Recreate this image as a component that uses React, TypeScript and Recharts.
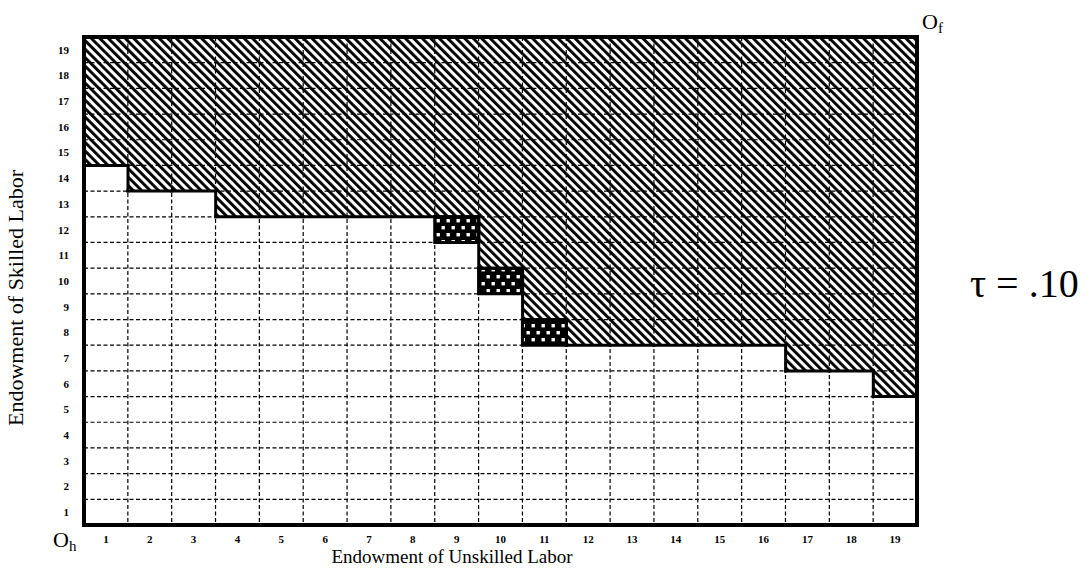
import React from 'react';
import { ComposedChart, Bar, XAxis, YAxis, CartesianGrid, ReferenceArea } from 'recharts';

// Column (unskilled labor) labels and row (skilled labor) labels
const columnLabels = ['1', '2', '3', '4', '5', '6', '7', '8', '9', '10', '11', '12', '13', '14', '15', '16', '17', '18', '19'];
const rowLabels = ['1', '2', '3', '4', '5', '6', '7', '8', '9', '10', '11', '12', '13', '14', '15', '16', '17', '18', '19'];
// Number of plain (white) cells in each column, counted from the bottom
const whiteRows = [14, 13, 13, 12, 12, 12, 12, 12, 11, 9, 7, 7, 7, 7, 7, 7, 6, 6, 5];
// Checkered cell sitting on top of the white cells (1 = present)
const checkerRows = [0, 0, 0, 0, 0, 0, 0, 0, 1, 1, 1, 0, 0, 0, 0, 0, 0, 0, 0];
const totalRows = rowLabels.length;

const data = columnLabels.map((label, i) => {
  const hatch = totalRows - whiteRows[i] - checkerRows[i];
  const nextHatch =
    i < columnLabels.length - 1 ? totalRows - whiteRows[i + 1] - checkerRows[i + 1] : hatch;
  return { col: label, pos: i + 1, white: whiteRows[i], checker: checkerRows[i], hatch, nextHatch };
});

const rowTicks = rowLabels.map((_, i) => i + 0.5);
const rowBounds = rowLabels.slice(1).map((_, i) => i + 1);
const colBounds = columnLabels.slice(1).map((_, i) => i + 1.5);

const SERIF = '"Liberation Serif", "Times New Roman", serif';

const HatchShape = (props: any) => {
  const { x, y, width, height, payload } = props;
  if (!payload || !height) return null;
  const unit = height / payload.hatch;
  const bottom = y + height;
  const nextY = bottom + (payload.nextHatch - payload.hatch) * unit;
  return (
    <g>
      <rect x={x} y={y} width={width} height={height} fill="url(#hatch)" />
      <line x1={x} x2={x + width} y1={bottom} y2={bottom} stroke="#000" strokeWidth={3} strokeLinecap="square" />
      {payload.nextHatch !== payload.hatch && (
        <line x1={x + width} x2={x + width} y1={bottom} y2={nextY} stroke="#000" strokeWidth={3} strokeLinecap="square" />
      )}
    </g>
  );
};

const tickStyle = { fontSize: 11, fontWeight: 'bold' as const, fill: '#000', fontFamily: SERIF };

export default function App() {
  return (
    <div style={{ position: 'absolute', left: 0, top: 0, width: 1092, height: 588, background: '#fff', fontFamily: SERIF }}>
      <ComposedChart
        width={1092}
        height={588}
        data={data}
        margin={{ top: 37, right: 175, bottom: 0, left: 0 }}
        barCategoryGap={0}
        barGap={0}
      >
        <defs>
          <pattern id="hatch" patternUnits="userSpaceOnUse" width={6} height={6} patternTransform="rotate(-45)">
            <rect x={0} y={0} width={2.9} height={6} fill="#000" />
          </pattern>
          <pattern id="checker" patternUnits="userSpaceOnUse" width={10} height={14}>
            <rect x={0} y={0} width={10} height={14} fill="#000" />
            <rect x={1.5} y={2} width={3.4} height={3.4} fill="#fff" />
            <rect x={6.5} y={9} width={3.4} height={3.4} fill="#fff" />
          </pattern>
        </defs>
        <CartesianGrid xAxisId="g" yAxisId="g" stroke="#000" strokeWidth={1.2} strokeDasharray="4 2.5" />
        <XAxis
          xAxisId="cat"
          dataKey="col"
          type="category"
          height={63}
          interval={0}
          tickLine={false}
          axisLine={false}
          tickSize={0}
          tickMargin={10}
          tick={tickStyle}
        />
        <XAxis xAxisId="g" dataKey="pos" type="number" domain={[0.5, 19.5]} ticks={colBounds} hide height={0} allowDataOverflow />
        <YAxis yAxisId="g" type="number" domain={[0, totalRows]} ticks={rowBounds} hide width={0} allowDataOverflow />
        <YAxis
          yAxisId="lab"
          type="number"
          domain={[0, totalRows]}
          ticks={rowTicks}
          tickFormatter={(v: number) => rowLabels[Math.round(v - 0.5)]}
          width={84}
          interval={0}
          tickLine={false}
          axisLine={false}
          tickSize={0}
          tickMargin={15}
          tick={tickStyle}
          allowDataOverflow
        />
        <Bar xAxisId="cat" yAxisId="lab" dataKey="white" stackId="s" fill="none" isAnimationActive={false} />
        <Bar
          xAxisId="cat"
          yAxisId="lab"
          dataKey="checker"
          stackId="s"
          fill="url(#checker)"
          stroke="#000"
          strokeWidth={3}
          isAnimationActive={false}
        />
        <Bar
          xAxisId="cat"
          yAxisId="lab"
          dataKey="hatch"
          stackId="s"
          fill="url(#hatch)"
          shape={(p: any) => <HatchShape {...p} />}
          isAnimationActive={false}
        />
        <ReferenceArea
          xAxisId="g"
          yAxisId="g"
          x1={0.5}
          x2={19.5}
          y1={0}
          y2={totalRows}
          fill="none"
          fillOpacity={0}
          stroke="#000"
          strokeWidth={4}
          ifOverflow="visible"
        />
      </ComposedChart>

      <div
        style={{
          position: 'absolute',
          left: 16,
          top: 298,
          transform: 'translate(-50%, -50%) rotate(-90deg)',
          fontSize: 22,
          lineHeight: '1',
          whiteSpace: 'nowrap',
          color: '#000',
        }}
      >
        Endowment of Skilled Labor
      </div>
      <div
        style={{
          position: 'absolute',
          left: 452,
          top: 556,
          transform: 'translate(-50%, -50%)',
          fontSize: 19,
          lineHeight: '1',
          whiteSpace: 'nowrap',
          color: '#000',
        }}
      >
        Endowment of Unskilled Labor
      </div>
      <div style={{ position: 'absolute', left: 53, top: 529, fontSize: 22, lineHeight: '1', whiteSpace: 'nowrap', color: '#000' }}>
        O<span style={{ fontSize: 15, position: 'relative', top: 4 }}>h</span>
      </div>
      <div style={{ position: 'absolute', left: 922, top: 11, fontSize: 22, lineHeight: '1', whiteSpace: 'nowrap', color: '#000' }}>
        O<span style={{ fontSize: 15, position: 'relative', top: 4 }}>f</span>
      </div>
      <div style={{ position: 'absolute', left: 970, top: 264, fontSize: 40, lineHeight: '1', whiteSpace: 'nowrap', color: '#000' }}>
        τ = .10
      </div>
    </div>
  );
}
